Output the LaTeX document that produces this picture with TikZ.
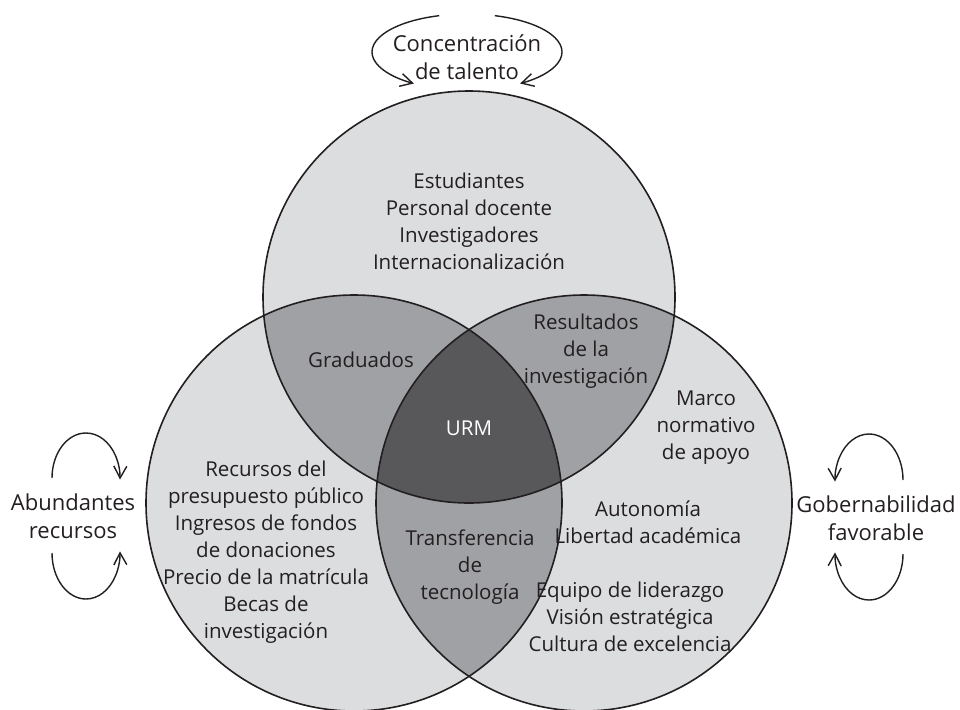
\documentclass[tikz,border=0pt]{standalone}
\usepackage{fontspec}
\setmainfont{Open Sans}
\usetikzlibrary{arrows.meta}
\definecolor{txt}{HTML}{231F20}
\definecolor{gone}{HTML}{DCDDDF}
\definecolor{gtwo}{HTML}{A0A1A4}
\definecolor{gthree}{HTML}{58585A}
\begin{document}
\begin{tikzpicture}[x=1pt,y=-1pt,
  lbl/.style={font=\fontsize{22}{28}\selectfont, text=txt, align=center, inner sep=0pt},
  inlbl/.style={font=\fontsize{20.5}{27}\selectfont, text=txt, align=center, inner sep=0pt},
  looparrow/.style={line width=1.4pt, draw=txt, -{Straight Barb[length=12pt,width=13pt,line width=1.4pt]}},
  ring/.style={draw=txt, line width=1.6pt}]
\useasboundingbox (0,0) rectangle (960,709);
\coordinate (T) at (469,297);
\coordinate (L) at (354,503);
\coordinate (R) at (584,503);
% base fills
\fill[gone] (T) circle[radius=206];
\fill[gone] (L) circle[radius=208];
\fill[gone] (R) circle[radius=208];
% pairwise overlaps
\begin{scope}
  \clip (T) circle[radius=206];
  \fill[gtwo] (L) circle[radius=208];
  \fill[gtwo] (R) circle[radius=208];
\end{scope}
\begin{scope}
  \clip (L) circle[radius=208];
  \fill[gtwo] (R) circle[radius=208];
\end{scope}
% triple overlap
\begin{scope}
  \clip (T) circle[radius=206];
  \clip (L) circle[radius=208];
  \fill[gthree] (R) circle[radius=208];
\end{scope}
% outlines
\draw[ring] (T) circle[radius=206];
\draw[ring] (L) circle[radius=208];
\draw[ring] (R) circle[radius=208];

% outer labels
\node[lbl] (talent) at (467,57) {Concentración\\de talento};
\node[lbl] (resources) at (73,516) {Abundantes\\recursos};
\node[lbl] (gov) at (876,518) {Gobernabilidad\\favorable};

% loops
\draw[looparrow] (467,52) ++(253:95 and 38) arc[start angle=253, end angle=124, x radius=95, y radius=38];
\draw[looparrow] (467,52) ++(287:95 and 38) arc[start angle=287, end angle=416, x radius=95, y radius=38];
\draw[looparrow] (86,478) ++(180:34 and 45) arc[start angle=180, end angle=362, x radius=34, y radius=45];
\draw[looparrow] (86,553) ++(180:34 and 46) arc[start angle=180, end angle=-2, x radius=34, y radius=46];
\draw[looparrow] (869,480) ++(0:34 and 46) arc[start angle=360, end angle=178, x radius=34, y radius=46];
\draw[looparrow] (869,554) ++(0:34 and 46) arc[start angle=0, end angle=182, x radius=34, y radius=46];

% inner labels
\node[inlbl] (top) at (469,221) {Estudiantes\\Personal docente\\Investigadores\\Internacionalización};
\node[inlbl] (grad) at (361,360) {Graduados};
\node[inlbl] (res) at (586,351) {Resultados\\de la\\investigación};
\node[inlbl, text=white] (urm) at (469,428) {URM};
\node[inlbl] (tech) at (470,567) {Transferencia\\de\\tecnología};
\node[inlbl] (money) at (266,552) {Recursos del\\presupuesto público\\Ingresos de fondos\\de donaciones\\Precio de la matrícula\\Becas de\\investigación};
\node[inlbl] (marco) at (706,428) {Marco\\normativo\\de apoyo};
\node[inlbl] (auto) at (648,522) {Autonomía\\Libertad académica};
\node[inlbl] (lead) at (630,617) {Equipo de liderazgo\\Visión estratégica\\Cultura de excelencia};
\end{tikzpicture}
\end{document}
